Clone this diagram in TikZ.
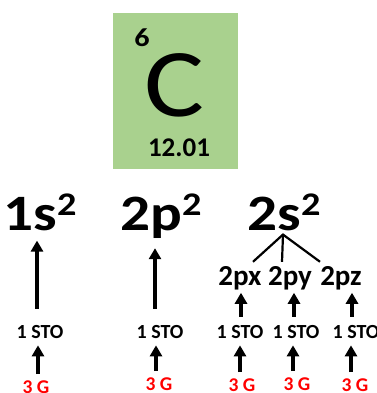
\documentclass[tikz,border=0pt]{standalone}
\usepackage{fontspec}
\setmainfont{Carlito}
\newfontfamily\wide{Carlito}[FakeStretch=1.16]
\usetikzlibrary{arrows.meta,calc}
\definecolor{boxgreen}{HTML}{A9D18E}
\newcommand\supx[1]{\raisebox{15pt}{\fontsize{33}{33}\selectfont #1}}
\tikzset{
  big/.style={inner sep=0pt, anchor=base, font=\wide\fontsize{51}{51}\selectfont\bfseries},
  orb/.style={inner sep=0pt, anchor=base, font=\fontsize{29}{29}\selectfont\bfseries},
  sto/.style={inner sep=0pt, anchor=base, font=\fontsize{20}{20}\selectfont\bfseries},
  gau/.style={inner sep=0pt, anchor=base, text=red, font=\fontsize{19.5}{19.5}\selectfont\bfseries},
  arr/.style={line width=3.5pt, -{Triangle[width=12pt,length=11pt]}},
  branch/.style={line width=2.2pt}
}
\begin{document}
\begin{tikzpicture}[x=1pt,y=-1pt]
\useasboundingbox (0,0) rectangle (376,393);
% element box
\node[fill=boxgreen, minimum width=125pt, minimum height=156pt, inner sep=0pt] (box) at (175.5,91) {};
\node[inner sep=0pt, anchor=base, font=\wide\fontsize{26}{26}\selectfont\bfseries] (num) at (142,47) {6};
\node[inner sep=0pt, anchor=base, text depth=0pt, font=\wide\fontsize{97}{97}\selectfont] (sym) at (174,117) {C};
\node[inner sep=0pt, anchor=base, font=\fontsize{27}{27}\selectfont\bfseries] (mass) at (179,156) {12.01};
% shells
\node[big] (s1) at (40,230) {1s\supx{2}};
\node[big] (p2) at (161,230) {2p\supx{2}};
\node[big] (s2) at (284,230) {2s\supx{2}};
% orbitals
\node[orb] (px) at (240,285) {2px};
\node[orb] (py) at (290,285) {2py};
\node[orb] (pz) at (341,285) {2pz};
% STO
\node[sto] (t1) at (40,338) {1 STO};
\node[sto] (t2) at (160,338) {1 STO};
\node[sto] (t3) at (240,338) {1 STO};
\node[sto] (t4) at (296,338) {1 STO};
\node[sto] (t5) at (356,338) {1 STO};
% Gaussians
\node[gau] (g1) at (36,393) {3 G};
\node[gau] (g2) at (159,390) {3 G};
\node[gau] (g3) at (242,391) {3 G};
\node[gau] (g4) at (297,390) {3 G};
\node[gau] (g5) at (355,391) {3 G};
% branches
\coordinate (apex) at ($(s2.south)+(-1,4)$);
\draw[branch] ($(px.north)+(13,-4)$) -- (apex) -- ($(pz.north)+(-21,-4)$);
\draw[branch] (apex) -- ($(py.north)+(-8,-4)$);
% big arrows
\draw[arr] ($(t1.north)+(-3,-16)$) -- ($(s1.south)+(-3,10)$);
\draw[arr] ($(t2.north)+(-5,-16)$) -- ($(p2.south)+(-6,10)$);
% small upper arrows
\draw[arr] ($(t3.north)+(1,-8)$) -- ($(px.south)+(1,3)$);
\draw[arr] ($(t4.north)+(-2,-8)$) -- ($(py.south)+(4,3)$);
\draw[arr] ($(t5.north)+(-4,-8)$) -- ($(pz.south)+(11,3)$);
% lower arrows
\draw[arr] ($(g1.north)+(2,-6)$) -- ($(t1.south)+(-2,7)$);
\draw[arr] ($(g2.north)+(-3,-6)$) -- ($(t2.south)+(-4,7)$);
\draw[arr] ($(g3.north)+(-2,-6)$) -- ($(t3.south)+(0,7)$);
\draw[arr] ($(g4.north)+(-4,-6)$) -- ($(t4.south)+(-3,7)$);
\draw[arr] ($(g5.north)+(-4,-6)$) -- ($(t5.south)+(-5,7)$);
\end{tikzpicture}
\end{document}
